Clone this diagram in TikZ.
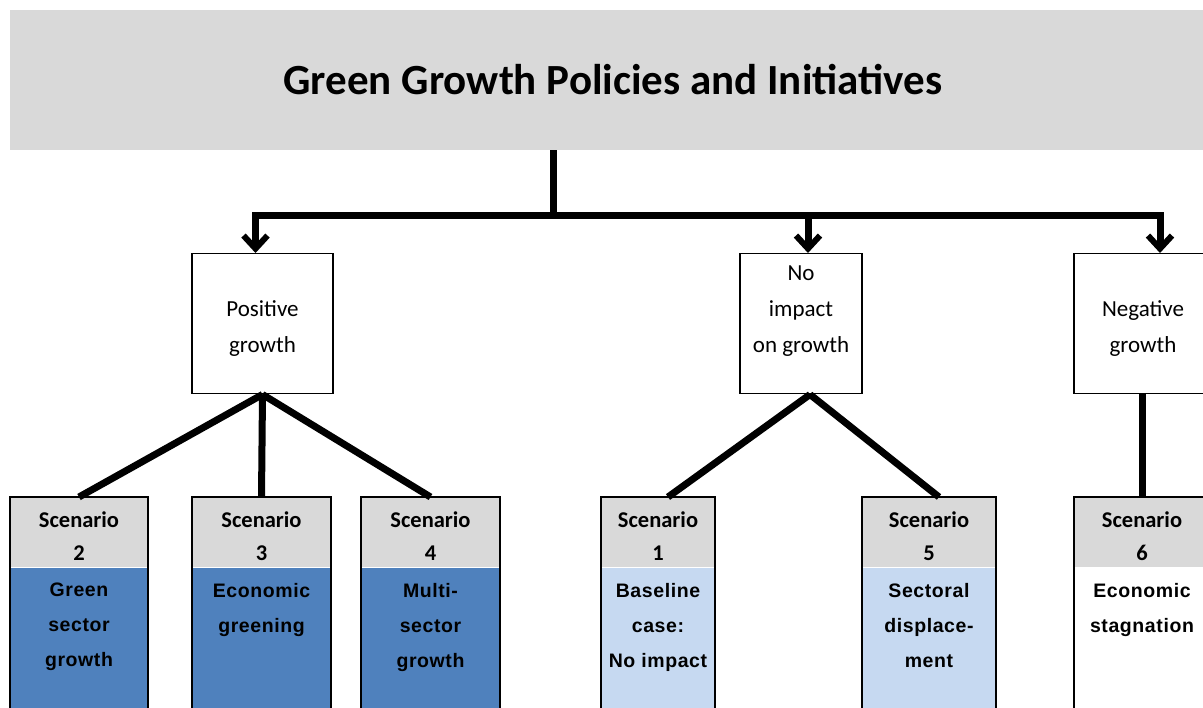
\documentclass[tikz,border=0pt]{standalone}
\usepackage{fontspec}
\setmainfont{Carlito}
\newfontfamily\bodyfont[LetterSpace=3]{Liberation Sans}
\usetikzlibrary{arrows.meta}
\definecolor{hdrgrey}{HTML}{D9D9D9}
\definecolor{darkblue}{HTML}{4F81BD}
\definecolor{lightblue}{HTML}{C6D9F1}
\newcommand{\scen}[1]{\rule{0pt}{23pt}Scenario\\#1}
\tikzset{
  titlebox/.style={fill=hdrgrey, minimum width=1206pt, minimum height=140pt,
    font=\fontsize{43}{48}\selectfont\bfseries},
  midbox/.style={draw, line width=1.5pt, minimum width=#1, minimum height=140pt,
    anchor=north, inner sep=0pt},
  midtext/.style={anchor=south, inner sep=0pt, align=center,
    font=\fontsize{23}{36}\selectfont},
  scenhead/.style={fill=hdrgrey, minimum width=#1, minimum height=70pt,
    anchor=north, inner sep=0pt, align=center,
    font=\fontsize{22.5}{33}\selectfont\bfseries},
  scenbody/.style={fill=#1, minimum height=150pt, anchor=north, inner sep=0pt},
  scentext/.style={anchor=north, inner sep=0pt, align=center,
    font=\bodyfont\fontsize{19.5}{35}\selectfont\bfseries},
  frame/.style={draw, line width=1.5pt},
  thick line/.style={line width=7pt},
  down arrow/.style={thick line, -{Straight Barb[length=13pt,width=24pt,line width=6pt]}}
}
\begin{document}
\begin{tikzpicture}[x=1pt,y=-1pt]
  \useasboundingbox (0,0) rectangle (1203,708);
  \clip (0,0) rectangle (1203,708);

  \node[titlebox] (title) at (613,80) {Green Growth Policies and Initiatives};

  % growth outcomes
  \node[midbox=141pt] (pos) at (262.5,253) {};
  \node[midbox=122pt] (noimp) at (801,253) {};
  \node[midbox=140pt] (neg) at (1144,253) {};
  \node[midtext] (postxt) at (262.5,357) {Positive\\growth};
  \node[midtext] (noimptxt) at (801,357) {No\\impact\\on growth};
  \node[midtext] (negtxt) at (1143,357) {Negative\\growth};

  % scenarios
  \node[scenhead=138pt] (s2) at (79,497) {\scen{2}};
  \node[scenhead=139pt] (s3) at (261.5,497) {\scen{3}};
  \node[scenhead=139pt] (s4) at (430.5,497) {\scen{4}};
  \node[scenhead=114pt] (s1) at (658,497) {\scen{1}};
  \node[scenhead=134pt] (s5) at (929,497) {\scen{5}};
  \node[scenhead=136pt] (s6) at (1142,497) {\scen{6}};

  \node[scenbody=darkblue, minimum width=138pt] (b2) at (s2.south) {};
  \node[scenbody=darkblue, minimum width=139pt] (b3) at (s3.south) {};
  \node[scenbody=darkblue, minimum width=139pt] (b4) at (s4.south) {};
  \node[scenbody=lightblue, minimum width=114pt] (b1) at (s1.south) {};
  \node[scenbody=lightblue, minimum width=134pt] (b5) at (s5.south) {};
  \node[scenbody=white, minimum width=136pt] (b6) at (s6.south) {};

  \foreach \n in {1,...,6}
    \draw[frame] (s\n.north west) rectangle (b\n.south east);

  \node[scentext] (t2) at (79,583) {Green\\sector\\growth};
  \node[scentext] (t3) at (261.5,583) {Economic\\greening};
  \node[scentext] (t4) at (430.5,583) {Multi-\\sector\\growth};
  \node[scentext] (t1) at (658,583) {Baseline\\case:\\No impact};
  \node[scentext] (t5) at (929,583) {Sectoral\\displace-\\ment};
  \node[scentext] (t6) at (1142,583) {Economic\\stagnation};

  % bus with arrows
  \coordinate (bus) at (553,216);
  \coordinate (busl) at ([xshift=-7pt]pos.north |- bus);
  \coordinate (busm) at ([xshift=7pt]noimp.north |- bus);
  \coordinate (busr) at ([xshift=16pt]neg.north |- bus);
  \draw[thick line] (title.south -| bus) -- (bus);
  \draw[thick line] ([xshift=-3.5pt]busl) -- ([xshift=3.5pt]busr);
  \draw[down arrow] (busl) -- (busl |- pos.north);
  \draw[down arrow] (busm) -- (busm |- noimp.north);
  \draw[down arrow] (busr) -- (busr |- neg.north);

  \begin{scope}[thick line]
    \draw (pos.south) -- (s2.north);
    \draw (pos.south) -- (s3.north);
    \draw (pos.south) -- (s4.north);
    \draw ([xshift=9pt]noimp.south) -- ([xshift=10pt]s1.north);
    \draw ([xshift=9pt]noimp.south) -- ([xshift=10pt]s5.north);
    \draw (neg.south -| s6.north) -- (s6.north);
  \end{scope}
\end{tikzpicture}
\end{document}
